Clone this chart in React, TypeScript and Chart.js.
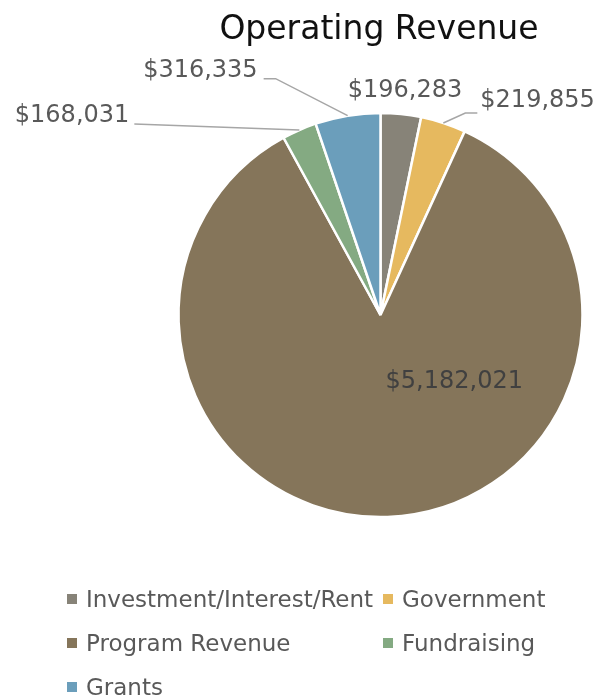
import React, { useEffect, useRef } from "react";
import { Chart, registerables } from "chart.js";

Chart.register(...registerables);

const title = "Operating Revenue";
const categories = ["Investment/Interest/Rent", "Government", "Program Revenue", "Fundraising", "Grants"];
const revenueValues = [196283, 219855, 5182021, 168031, 316335];
const sliceColors = ["#878378", "#E6B95F", "#85755A", "#84AA82", "#6B9EBB"];

const FONT = "'DejaVu Sans', sans-serif";

// label placement relative to the slice's mid-arc point (style only)
const labelPlacements = [
  { kind: "out", text: [4, -23], align: "center", line: [] as number[][] },
  { kind: "out", text: [37, -22], align: "left", line: [[22, -10], [34, -10]] },
  { kind: "in", text: [0.365, 0.33], align: "center", line: [] as number[][] },
  { kind: "out", text: [-170, -14], align: "right", line: [[-165, -6]] },
  { kind: "out", text: [-90, -45], align: "right", line: [[-72, -37], [-84, -37]] },
];

const fmt = (v: number) => "$" + v.toLocaleString("en-US");

const labelPlugin = {
  id: "sliceLabels",
  afterDatasetsDraw(chart: any) {
    const ctx = chart.ctx;
    const meta = chart.getDatasetMeta(0);
    const data = chart.data.datasets[0].data as number[];
    meta.data.forEach((arc: any, i: number) => {
      const p = labelPlacements[i];
      const { x, y, startAngle, endAngle, outerRadius } = arc.getProps(
        ["x", "y", "startAngle", "endAngle", "outerRadius"],
        true
      );
      const mid = (startAngle + endAngle) / 2;
      const ax = x + Math.cos(mid) * outerRadius;
      const ay = y + Math.sin(mid) * outerRadius;
      ctx.save();
      ctx.font = `24px ${FONT}`;
      ctx.textBaseline = "middle";
      if (p.kind === "in") {
        ctx.fillStyle = "#404040";
        ctx.textAlign = "center";
        ctx.fillText(fmt(data[i]), x + p.text[0] * outerRadius, y + p.text[1] * outerRadius);
      } else {
        if (p.line.length) {
          ctx.strokeStyle = "#A6A6A6";
          ctx.lineWidth = 1.5;
          ctx.beginPath();
          ctx.moveTo(ax, ay);
          p.line.forEach((pt) => ctx.lineTo(ax + pt[0], ay + pt[1]));
          ctx.stroke();
        }
        ctx.fillStyle = "#595959";
        ctx.textAlign = p.align as CanvasTextAlign;
        ctx.fillText(fmt(data[i]), ax + p.text[0], ay + p.text[1]);
      }
      ctx.restore();
    });
  },
};

export default function App() {
  const ref = useRef<HTMLCanvasElement>(null);
  useEffect(() => {
    document.body.style.margin = "0";
    const chart = new Chart(ref.current as HTMLCanvasElement, {
      type: "pie",
      data: {
        labels: categories,
        datasets: [
          {
            data: revenueValues,
            backgroundColor: sliceColors,
            borderColor: "#FFFFFF",
            borderWidth: 2.5,
          },
        ],
      },
      options: {
        responsive: false,
        animation: false,
        radius: 202,
        layout: { padding: { left: 173, right: 10, top: 98, bottom: 167 } },
        plugins: {
          legend: { display: false },
          title: { display: false },
          tooltip: { enabled: false },
        },
      } as any,
      plugins: [labelPlugin],
    });
    return () => chart.destroy();
  }, []);

  const legendRows = [
    [0, 1],
    [2, 3],
    [4],
  ];

  return (
    <div style={{ position: "fixed", left: 0, top: 0, width: 598, height: 699, background: "#fff", overflow: "hidden" }}>
      <canvas ref={ref} width={598} height={699} style={{ position: "absolute", left: 0, top: 0 }} />
      <div
        style={{
          position: "absolute",
          left: 0,
          top: 8,
          width: 758,
          textAlign: "center",
          font: `33px ${FONT}`,
          color: "#111",
          lineHeight: "40px",
        }}
      >
        {title}
      </div>
      {legendRows.map((row, r) =>
        row.map((idx, c) => (
          <div
            key={idx}
            style={{
              position: "absolute",
              left: c === 0 ? 67 : 383,
              top: 599 + r * 44 - 15,
              height: 30,
              display: "flex",
              alignItems: "center",
              font: `23px ${FONT}`,
              color: "#595959",
              whiteSpace: "nowrap",
            }}
          >
            <span style={{ display: "inline-block", width: 10, height: 10, background: sliceColors[idx], marginRight: 9 }} />
            {categories[idx]}
          </div>
        ))
      )}
    </div>
  );
}
